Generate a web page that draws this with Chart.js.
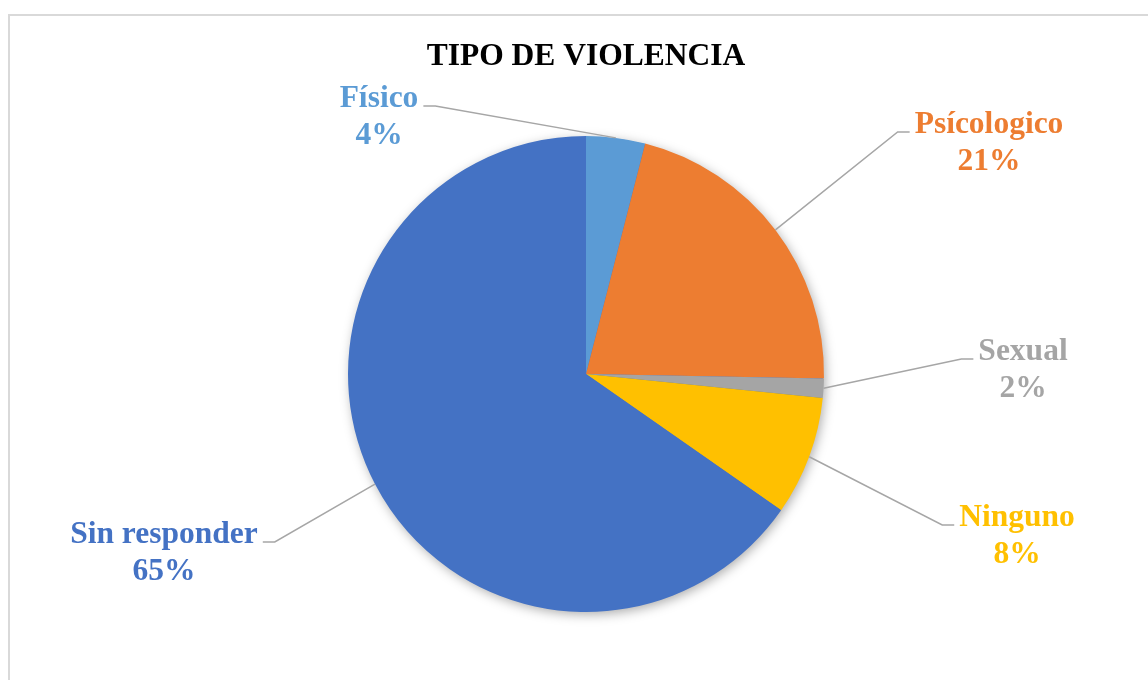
<!DOCTYPE html>
<html>
<head>
<meta charset="utf-8">
<script src="https://cdn.jsdelivr.net/npm/chart.js@4/dist/chart.umd.min.js"></script>
<style>
  html, body { margin: 0; padding: 0; background: #fff; }
  #wrap { position: relative; width: 1148px; height: 680px; overflow: hidden; }
  #frame { position: absolute; left: 8px; top: 14px; width: 1200px; height: 720px; border: 2px solid #d9d9d9; box-sizing: border-box; }
  canvas { position: absolute; left: 0; top: 0; }
</style>
</head>
<body>
<div id="wrap">
  <div id="frame"></div>
  <canvas id="pieChart" width="1148" height="680"></canvas>
</div>
<script>
// Datos del gráfico
const categories = ['Físico', 'Psícologico', 'Sexual', 'Ninguno', 'Sin responder'];
const values = [4.0, 21.3, 1.3, 8.1, 65.3];
const percentLabels = ['4%', '21%', '2%', '8%', '65%'];
const colors = ['#5B9BD5', '#ED7D31', '#A5A5A5', '#FFC000', '#4472C4'];

// Posición de cada etiqueta respecto al centro del pastel (centro del texto x, línea base y)
const labelOffsets = [
    { dx: -207, dy: -267 },
    { dx: 403, dy: -241 },
    { dx: 437, dy: -14 },
    { dx: 431, dy: 152 },
    { dx: -422, dy: 169 }
];

const FONT = 'bold 31.5px "Liberation Serif", "Times New Roman", serif';
const LINE_H = 36.5;

// Sombra suave bajo el pastel
const shadowPlugin = {
    id: 'pieShadow',
    beforeDatasetsDraw(chart) {
        const arc = chart.getDatasetMeta(0).data[0];
        if (!arc) return;
        const ctx = chart.ctx;
        ctx.save();
        ctx.shadowColor = 'rgba(0,0,0,0.35)';
        ctx.shadowBlur = 12;
        ctx.shadowOffsetX = 2;
        ctx.shadowOffsetY = 3;
        ctx.fillStyle = '#4472C4';
        ctx.beginPath();
        ctx.arc(arc.x, arc.y, arc.outerRadius - 1, 0, Math.PI * 2);
        ctx.fill();
        ctx.restore();
    }
};

// Título y etiquetas con líneas guía
const labelPlugin = {
    id: 'outerLabels',
    afterDatasetsDraw(chart) {
        const ctx = chart.ctx;
        const meta = chart.getDatasetMeta(0);
        const cx = meta.data[0].x;
        const cy = meta.data[0].y;

        ctx.save();
        ctx.font = FONT;
        ctx.textAlign = 'center';
        ctx.textBaseline = 'alphabetic';
        ctx.fillStyle = '#000';
        ctx.fillText('TIPO DE VIOLENCIA', cx, 65);

        meta.data.forEach((arc, i) => {
            const mid = (arc.startAngle + arc.endAngle) / 2;
            const ax = arc.x + Math.cos(mid) * arc.outerRadius;
            const ay = arc.y + Math.sin(mid) * arc.outerRadius;
            const tx = cx + labelOffsets[i].dx;
            const ty = cy + labelOffsets[i].dy;
            const w = ctx.measureText(categories[i]).width;

            // línea guía
            let s1, s2;
            if (tx < ax) {
                s1 = tx + w / 2 + 5;
                s2 = s1 + 12;
            } else {
                s1 = tx - w / 2 - 5;
                s2 = s1 - 12;
            }
            const ly = ty - 1;
            ctx.strokeStyle = '#A6A6A6';
            ctx.lineWidth = 1.5;
            ctx.beginPath();
            ctx.moveTo(s1, ly);
            ctx.lineTo(s2, ly);
            ctx.lineTo(ax, ay);
            ctx.stroke();

            ctx.fillStyle = colors[i];
            ctx.fillText(categories[i], tx, ty);
            ctx.fillText(percentLabels[i], tx, ty + LINE_H);
        });
        ctx.restore();
    }
};

document.addEventListener('DOMContentLoaded', function() {
    const ctx = document.getElementById('pieChart');
    new Chart(ctx, {
        type: 'pie',
        data: {
            labels: categories,
            datasets: [{
                data: values,
                backgroundColor: colors,
                borderWidth: 0
            }]
        },
        options: {
            responsive: false,
            animation: false,
            layout: { padding: { left: 24, right: 0, top: 136, bottom: 68 } },
            plugins: {
                legend: { display: false },
                tooltip: { enabled: false },
                title: { display: false }
            }
        },
        plugins: [shadowPlugin, labelPlugin]
    });
});
</script>
</body>
</html>
